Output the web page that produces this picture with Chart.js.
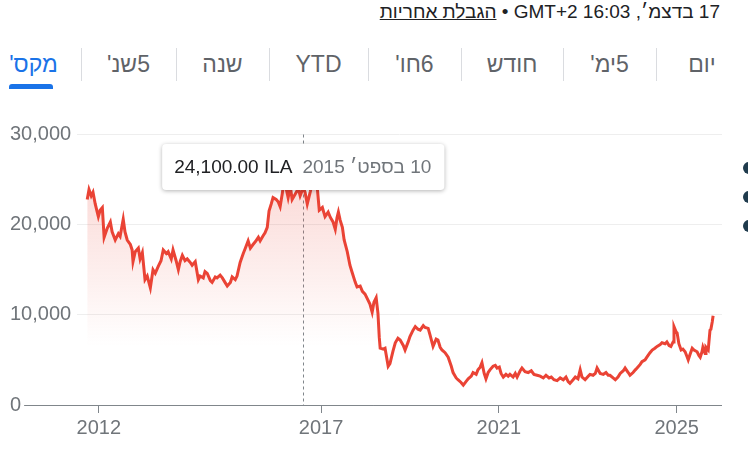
<!DOCTYPE html>
<html lang="he">
<head>
<meta charset="utf-8">
<script src="https://cdn.jsdelivr.net/npm/chart.js@4.4.1/dist/chart.umd.min.js"></script>
<style>
  html, body { margin:0; padding:0; background:#fff; }
  body { width:748px; height:463px; position:relative; overflow:hidden; font-family: Arial, "Liberation Sans", sans-serif; }
  #stamp { position:absolute; top:0; right:28px; font-size:19px; color:#202124; white-space:nowrap; line-height:24px; }
  #stamp a { color:#202124; text-decoration:underline; }
  .tab { position:absolute; top:48px; height:33px; line-height:33px; text-align:center; font-size:23px; color:#5f6368; }
  .tab.on { color:#1a73e8; }
  .sep { position:absolute; top:48px; width:1px; height:33px; background:#dadce0; }
  #bar { position:absolute; left:9px; top:84px; width:44px; height:5px; background:#1a73e8; border-radius:3px 3px 0 0; }
  #chartBox { position:absolute; left:0; top:100px; width:748px; height:363px; }
  .dot { position:absolute; left:743px; width:12px; height:12px; border-radius:50%; background:#1f3b4d; }
</style>
</head>
<body>
<div id="stamp" dir="rtl">17 בדצמ׳, <span dir="ltr">GMT+2 16:03</span> • <a>הגבלת אחריות</a></div>

<div class="tab on" dir="rtl" style="left:-14px;width:95px">מקס'</div>
<div class="sep" style="left:81px"></div>
<div class="tab" dir="rtl" style="left:81px;width:95px">5שנ'</div>
<div class="sep" style="left:176px"></div>
<div class="tab" dir="rtl" style="left:176px;width:93px">שנה</div>
<div class="sep" style="left:269px"></div>
<div class="tab" dir="rtl" style="left:269px;width:99px">YTD</div>
<div class="sep" style="left:368px"></div>
<div class="tab" dir="rtl" style="left:368px;width:93px">6חו'</div>
<div class="sep" style="left:461px"></div>
<div class="tab" dir="rtl" style="left:461px;width:102px">חודש</div>
<div class="sep" style="left:563px"></div>
<div class="tab" dir="rtl" style="left:563px;width:93px">5ימ'</div>
<div class="sep" style="left:656px"></div>
<div class="tab" dir="rtl" style="left:656px;width:92px">יום</div>
<div id="bar"></div>

<div class="dot" style="top:162px"></div>
<div class="dot" style="top:191px"></div>
<div class="dot" style="top:220px"></div>

<div id="chartBox"><canvas id="priceChart" width="748" height="363"></canvas></div>

<script>
// נתונים - שנה עשרונית ומחיר (אגורות)
const years = [
  2011.74, 2011.78, 2011.83, 2011.87, 2011.92, 2011.99, 2012.03, 2012.08, 2012.12, 2012.19,
  2012.26, 2012.30, 2012.37, 2012.44, 2012.48, 2012.55, 2012.59, 2012.64, 2012.71, 2012.75,
  2012.77, 2012.82, 2012.89, 2012.93, 2012.98, 2013.04, 2013.09, 2013.16, 2013.22, 2013.27,
  2013.34, 2013.40, 2013.45, 2013.52, 2013.56, 2013.63, 2013.67, 2013.74, 2013.79, 2013.83,
  2013.88, 2013.94, 2013.99, 2014.06, 2014.10, 2014.17, 2014.24, 2014.28, 2014.35, 2014.39,
  2014.44, 2014.51, 2014.55, 2014.62, 2014.66, 2014.73, 2014.78, 2014.84, 2014.89, 2014.96,
  2015.00, 2015.07, 2015.11, 2015.18, 2015.25, 2015.29, 2015.36, 2015.41, 2015.47, 2015.52,
  2015.59, 2015.63, 2015.70, 2015.74, 2015.79, 2015.83, 2015.88, 2015.92, 2015.99, 2016.04,
  2016.08, 2016.13, 2016.15, 2016.19, 2016.26, 2016.31, 2016.35, 2016.42, 2016.49, 2016.53,
  2016.60, 2016.64, 2016.69, 2016.76, 2016.80, 2016.87, 2016.91, 2016.96, 2017.03, 2017.09,
  2017.16, 2017.21, 2017.27, 2017.32, 2017.36, 2017.39, 2017.43, 2017.48, 2017.52, 2017.59,
  2017.65, 2017.70, 2017.77, 2017.81, 2017.88, 2017.93, 2017.99, 2018.04, 2018.10, 2018.15,
  2018.19, 2018.24, 2018.28, 2018.31, 2018.33, 2018.40, 2018.44, 2018.51, 2018.55, 2018.62,
  2018.67, 2018.73, 2018.78, 2018.85, 2018.89, 2018.96, 2019.00, 2019.07, 2019.12, 2019.18,
  2019.23, 2019.30, 2019.34, 2019.41, 2019.45, 2019.52, 2019.59, 2019.63, 2019.68, 2019.72,
  2019.79, 2019.86, 2019.93, 2019.97, 2020.04, 2020.08, 2020.15, 2020.20, 2020.26, 2020.31,
  2020.38, 2020.42, 2020.49, 2020.53, 2020.58, 2020.62, 2020.67, 2020.71, 2020.76, 2020.80,
  2020.87, 2020.92, 2020.96, 2021.01, 2021.05, 2021.10, 2021.16, 2021.21, 2021.25, 2021.32,
  2021.37, 2021.41, 2021.48, 2021.52, 2021.59, 2021.66, 2021.73, 2021.79, 2021.86, 2021.93,
  2022.00, 2022.06, 2022.13, 2022.18, 2022.24, 2022.31, 2022.38, 2022.45, 2022.51, 2022.56,
  2022.60, 2022.67, 2022.72, 2022.78, 2022.83, 2022.87, 2022.94, 2023.01, 2023.05, 2023.12,
  2023.17, 2023.21, 2023.28, 2023.35, 2023.41, 2023.46, 2023.50, 2023.57, 2023.62, 2023.68,
  2023.73, 2023.80, 2023.84, 2023.91, 2023.95, 2024.02, 2024.07, 2024.11, 2024.18, 2024.22,
  2024.29, 2024.33, 2024.40, 2024.45, 2024.51, 2024.56, 2024.63, 2024.67, 2024.74, 2024.78,
  2024.83, 2024.87, 2024.92, 2024.94, 2024.99, 2025.01, 2025.05, 2025.10, 2025.14, 2025.19,
  2025.23, 2025.26, 2025.30, 2025.35, 2025.39, 2025.46, 2025.50, 2025.53, 2025.57, 2025.59,
  2025.64, 2025.66, 2025.71, 2025.75, 2025.77, 2025.80, 2025.82
];
const prices = [
  22800, 23900, 23200, 23600, 22300, 20900, 21600, 21900, 18600, 19600,
  20300, 19200, 18300, 19000, 18700, 20600, 19200, 18300, 17800, 17200,
  15900, 17000, 17400, 16200, 16900, 13900, 14300, 13000, 15000, 14600,
  15400, 16000, 17200, 16800, 17000, 16200, 17200, 16000, 15000, 15900,
  16600, 16000, 16200, 15800, 15500, 15900, 13900, 14300, 14100, 14800,
  14600, 13800, 13600, 14200, 14100, 14400, 14100, 13600, 13200, 13600,
  14200, 13900, 14300, 15800, 16800, 17300, 18200, 17400, 17800, 18100,
  18600, 18200, 18800, 19100, 19700, 21500, 22300, 23000, 22800, 22500,
  22000, 23500, 24300, 24600, 23000, 24200, 22800, 23400, 24000, 23200,
  24100, 23600, 22300, 23700, 24600, 25000, 24400, 21600, 21900, 20900,
  21400, 20800, 20300, 19500, 20800, 21400, 20500, 19700, 18300, 17000,
  15500, 14700, 13600, 13100, 13200, 12600, 12300, 11800, 11200, 10300,
  11400, 11900, 10200, 7500, 6300, 6200, 6300, 4300, 4600, 6000,
  6900, 7400, 7200, 6600, 6100, 7000, 7600, 8300, 8700, 8400,
  8300, 8800, 8600, 8500, 7800, 6500, 7300, 7200, 6400, 6100,
  5800, 5300, 4300, 3600, 3000, 2800, 2500, 2200, 2600, 2900,
  3200, 3600, 3400, 3900, 4200, 4700, 3500, 2900, 3600, 3900,
  4300, 4400, 4100, 4200, 3500, 3100, 3400, 3200, 3400, 3100,
  3500, 3100, 3800, 4100, 3700, 3600, 3800, 3400, 3300, 3200,
  3000, 3300, 3000, 3100, 2800, 2700, 3000, 2800, 3100, 2600,
  2400, 2800, 3100, 2900, 3900, 3100, 2800, 3200, 3400, 3300,
  3500, 4100, 3500, 3400, 3600, 3300, 3300, 3000, 2800, 3100,
  3500, 3800, 4100, 3600, 3300, 3600, 3900, 4100, 4500, 4800,
  5000, 5300, 5800, 6100, 6300, 6500, 6700, 6900, 6800, 7000,
  6600, 6500, 7000, 8700, 8100, 8000, 6800, 6100, 6200, 5900,
  5400, 5000, 5600, 6300, 6100, 5900, 5500, 5300, 5900, 6400,
  5700, 6400, 6100, 8300, 8400, 9200, 9900
];
const yTicks = [0, 10000, 20000, 30000];
const xTickYears = [2012, 2017, 2021, 2025];
const xMin = 2011.51, xMax = 2026.02;

// נקודת הריחוף והטולטיפ
const hoverYear = 2016.60;
const hoverPrice = 24100;
const hoverDate = '10 בספט׳ 2015';
const currency = 'ILA';

const FONT = 'Arial, "Liberation Sans", sans-serif';
const GREY = '#70757a';
const AXIS = '#80868b';

const overlay = {
  id: 'overlay',
  beforeDatasetsDraw(chart) {
    const { ctx, chartArea, scales: { x } } = chart;
    const px = Math.round(x.getPixelForValue(hoverYear)) + 0.5;
    ctx.save();
    ctx.strokeStyle = AXIS;
    ctx.lineWidth = 1;
    ctx.setLineDash([3, 3]);
    ctx.beginPath();
    ctx.moveTo(px, chartArea.top);
    ctx.lineTo(px, chartArea.bottom);
    ctx.stroke();
    ctx.restore();
  },
  afterDraw(chart) {
    const { ctx, chartArea, scales: { x, y } } = chart;
    ctx.save();
    // קו בסיס מתחת לתווית 0
    ctx.font = '20px ' + FONT;
    const zeroW = ctx.measureText('0').width;
    const by = Math.round(y.getPixelForValue(0)) + 0.5;
    ctx.strokeStyle = AXIS;
    ctx.lineWidth = 1;
    ctx.beginPath();
    ctx.moveTo(y.left + zeroW + 3, by);
    ctx.lineTo(chartArea.right, by);
    ctx.stroke();

    // טולטיפ
    ctx.font = '19px ' + FONT;
    const px = x.getPixelForValue(hoverYear);
    const valTxt = hoverPrice.toLocaleString('en-US', { minimumFractionDigits: 2 }) + ' ' + currency;
    ctx.direction = 'ltr';
    const w1 = ctx.measureText(valTxt).width;
    ctx.direction = 'rtl';
    const w2 = ctx.measureText(hoverDate).width;
    const boxW = 12 + w1 + 10 + w2 + 13;
    const boxH = 46;
    const bx = px - boxW / 2;
    const bt = chartArea.top + 9.5;
    ctx.shadowColor = 'rgba(0,0,0,0.3)';
    ctx.shadowBlur = 4;
    ctx.shadowOffsetY = 1;
    ctx.fillStyle = '#fff';
    ctx.beginPath();
    ctx.roundRect(bx, bt, boxW, boxH, 4);
    ctx.fill();
    ctx.shadowColor = 'transparent';
    ctx.textBaseline = 'middle';
    ctx.direction = 'ltr';
    ctx.textAlign = 'left';
    ctx.fillStyle = '#202124';
    ctx.fillText(valTxt, bx + 12, bt + boxH / 2 + 1);
    ctx.direction = 'rtl';
    ctx.textAlign = 'right';
    ctx.fillStyle = GREY;
    ctx.fillText(hoverDate, bx + boxW - 13, bt + boxH / 2 + 1);
    ctx.restore();
  }
};

const ctx = document.getElementById('priceChart').getContext('2d');
new Chart(ctx, {
  type: 'line',
  data: {
    datasets: [{
      data: years.map((yr, i) => ({ x: yr, y: prices[i] })),
      borderColor: '#ea4335',
      borderWidth: 3,
      pointRadius: 0,
      tension: 0,
      fill: 'origin',
      backgroundColor(context) {
        const { chart } = context;
        const { chartArea, scales } = chart;
        if (!chartArea) return 'transparent';
        const g = chart.ctx.createLinearGradient(0, chartArea.top, 0, scales.y.getPixelForValue(6500));
        g.addColorStop(0, 'rgba(234,67,53,0.25)');
        g.addColorStop(1, 'rgba(234,67,53,0)');
        return g;
      }
    }]
  },
  options: {
    responsive: false,
    animation: false,
    events: [],
    layout: { padding: { left: 10, top: 34.5, right: 26, bottom: 0 } },
    scales: {
      x: {
        type: 'linear',
        min: xMin,
        max: xMax,
        afterBuildTicks: s => { s.ticks = xTickYears.map(v => ({ value: v })); },
        afterFit: s => { s.height = 58; },
        ticks: {
          autoSkip: false,
          maxRotation: 0,
          padding: 3,
          color: GREY,
          font: { family: FONT, size: 20 },
          callback: v => String(v)
        },
        grid: { drawOnChartArea: false, drawTicks: true, tickLength: 8, color: AXIS },
        border: { display: false }
      },
      y: {
        min: 0,
        max: 30000,
        afterBuildTicks: s => { s.ticks = yTicks.map(v => ({ value: v })); },
        afterFit: s => { s.width = 67; },
        ticks: {
          crossAlign: 'far',
          padding: 0,
          color: GREY,
          font: { family: FONT, size: 20 },
          callback: v => v.toLocaleString('en-US')
        },
        grid: { color: '#eeeeee', drawTicks: false },
        border: { display: false }
      }
    },
    plugins: {
      legend: { display: false },
      tooltip: { enabled: false }
    }
  },
  plugins: [overlay]
});
</script>
</body>
</html>
